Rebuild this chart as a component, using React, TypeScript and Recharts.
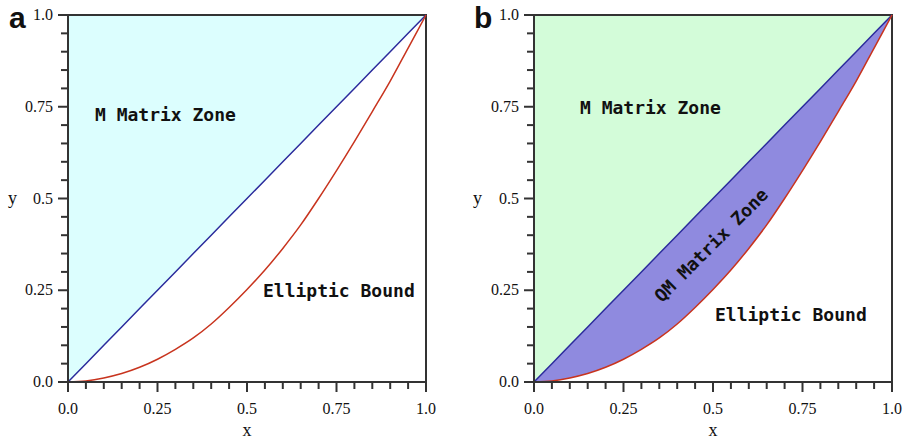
import { ComposedChart, Area, Line, XAxis, YAxis, ReferenceArea } from 'recharts';

// x positions (every 0.05) and the two boundary curves
const xs = [0, 0.05, 0.1, 0.15, 0.2, 0.25, 0.3, 0.35, 0.4, 0.45, 0.5, 0.55, 0.6, 0.65, 0.7, 0.75, 0.8, 0.85, 0.9, 0.95, 1];
const diagonal = [0, 0.05, 0.1, 0.15, 0.2, 0.25, 0.3, 0.35, 0.4, 0.45, 0.5, 0.55, 0.6, 0.65, 0.7, 0.75, 0.8, 0.85, 0.9, 0.95, 1];
const ellipticBound = [0, 0.003, 0.011, 0.023, 0.04, 0.062, 0.089, 0.12, 0.158, 0.203, 0.252, 0.305, 0.364, 0.428, 0.5, 0.576, 0.655, 0.737, 0.82, 0.91, 1];
const tickValues = [0, 0.05, 0.1, 0.15, 0.2, 0.25, 0.3, 0.35, 0.4, 0.45, 0.5, 0.55, 0.6, 0.65, 0.7, 0.75, 0.8, 0.85, 0.9, 0.95, 1];
const majorLabels: Record<string, string> = { '0': '0.0', '0.25': '0.25', '0.5': '0.5', '0.75': '0.75', '1': '1.0' };

const rows = xs.map((x, i) => ({
  x,
  line: diagonal[i],
  bound: ellipticBound[i],
  upper: [diagonal[i], 1],
  qm: [ellipticBound[i], diagonal[i]],
}));

const serif = '"Liberation Serif", "Times New Roman", serif';
const mono = '"DejaVu Sans Mono", monospace';
const frame = '#333';

const isMajor = (v: number) => Math.abs(v * 4 - Math.round(v * 4)) < 1e-6;

function YTick(props: any) {
  const { x, y, payload } = props;
  const v = payload.value;
  const ax = x + 10;
  const major = isMajor(v);
  return (
    <g>
      <line x1={ax - (major ? 10 : 7)} x2={ax} y1={y} y2={y} stroke={frame} strokeWidth={2} />
      {major && (
        <text x={x - 5} y={y + 5} textAnchor="end" fontFamily={serif} fontSize={16} fill="#111">
          {majorLabels[String(v)]}
        </text>
      )}
    </g>
  );
}

function XTick(props: any) {
  const { x, y, payload } = props;
  const v = payload.value;
  const ay = y - 10;
  const major = isMajor(v);
  return (
    <g>
      <line x1={x} x2={x} y1={ay} y2={ay + (major ? 10 : 7)} stroke={frame} strokeWidth={2} />
      {major && (
        <text x={x} y={y + 22} textAnchor="middle" fontFamily={serif} fontSize={16} fill="#111">
          {majorLabels[String(v)]}
        </text>
      )}
    </g>
  );
}

function Panel({ width, right, qm }: { width: number; right: number; qm: boolean }) {
  return (
    <ComposedChart width={width} height={439} data={rows} margin={{ top: 15, right, bottom: 17, left: 18 }}>
      <XAxis dataKey="x" type="number" domain={[0, 1]} ticks={tickValues} tick={<XTick />} tickSize={10} tickMargin={0}
        tickLine={false} axisLine={{ stroke: frame, strokeWidth: 2 }} height={40} interval={0} />
      <YAxis type="number" domain={[0, 1]} ticks={tickValues} tick={<YTick />} tickSize={10} tickMargin={0}
        tickLine={false} axisLine={{ stroke: frame, strokeWidth: 2 }} width={50} interval={0} />
      <Area dataKey="upper" type="linear" fill={qm ? '#d3fcd9' : '#dcfefe'} fillOpacity={1} stroke="none" isAnimationActive={false} />
      {qm && (
        <Area dataKey="qm" type="monotone" fill="#8f8adf" fillOpacity={1} stroke="none" isAnimationActive={false} />
      )}
      <Line dataKey="line" type="linear" stroke="#2b2b9c" strokeWidth={1.5} dot={false} isAnimationActive={false} />
      <Line dataKey="bound" type="monotone" stroke="#c8341e" strokeWidth={1.5} dot={false} isAnimationActive={false} />
      <ReferenceArea x1={0} x2={1} y1={0} y2={1} fill="none" stroke={frame} strokeWidth={2} />
    </ComposedChart>
  );
}

const labelStyle = { fontFamily: mono, fontSize: 18, fontWeight: 'bold' as const, fill: '#111' };

export default function App() {
  return (
    <div style={{ position: 'absolute', left: 0, top: 0, width: 903, height: 439, background: '#fff' }}>
      <div style={{ position: 'absolute', left: 0, top: 0 }}>
        <Panel width={450} right={24} qm={false} />
      </div>
      <div style={{ position: 'absolute', left: 466, top: 0 }}>
        <Panel width={437} right={11} qm={true} />
      </div>
      <svg width={903} height={439} style={{ position: 'absolute', left: 0, top: 0, pointerEvents: 'none' }}>
        <text x={9} y={28} fontFamily='"Liberation Sans", Arial, sans-serif' fontWeight="bold" fontSize={30} fill="#111">a</text>
        <text x={474} y={28} fontFamily='"Liberation Sans", Arial, sans-serif' fontWeight="bold" fontSize={30} fill="#111">b</text>
        <text x={8} y={204} fontFamily={serif} fontSize={18} fill="#111">y</text>
        <text x={473} y={204} fontFamily={serif} fontSize={18} fill="#111">y</text>
        <text x={247} y={436} textAnchor="middle" fontFamily={serif} fontSize={18} fill="#111">x</text>
        <text x={713} y={436} textAnchor="middle" fontFamily={serif} fontSize={18} fill="#111">x</text>
        <text x={95} y={121} {...labelStyle}>M Matrix Zone</text>
        <text x={263} y={297} {...labelStyle}>Elliptic Bound</text>
        <text x={580} y={114} {...labelStyle}>M Matrix Zone</text>
        <text x={715} y={321} {...labelStyle}>Elliptic Bound</text>
        <text x={711} y={245} textAnchor="middle" dominantBaseline="central" transform="rotate(-45 711 245)" {...labelStyle}>QM Matrix Zone</text>
      </svg>
    </div>
  );
}
